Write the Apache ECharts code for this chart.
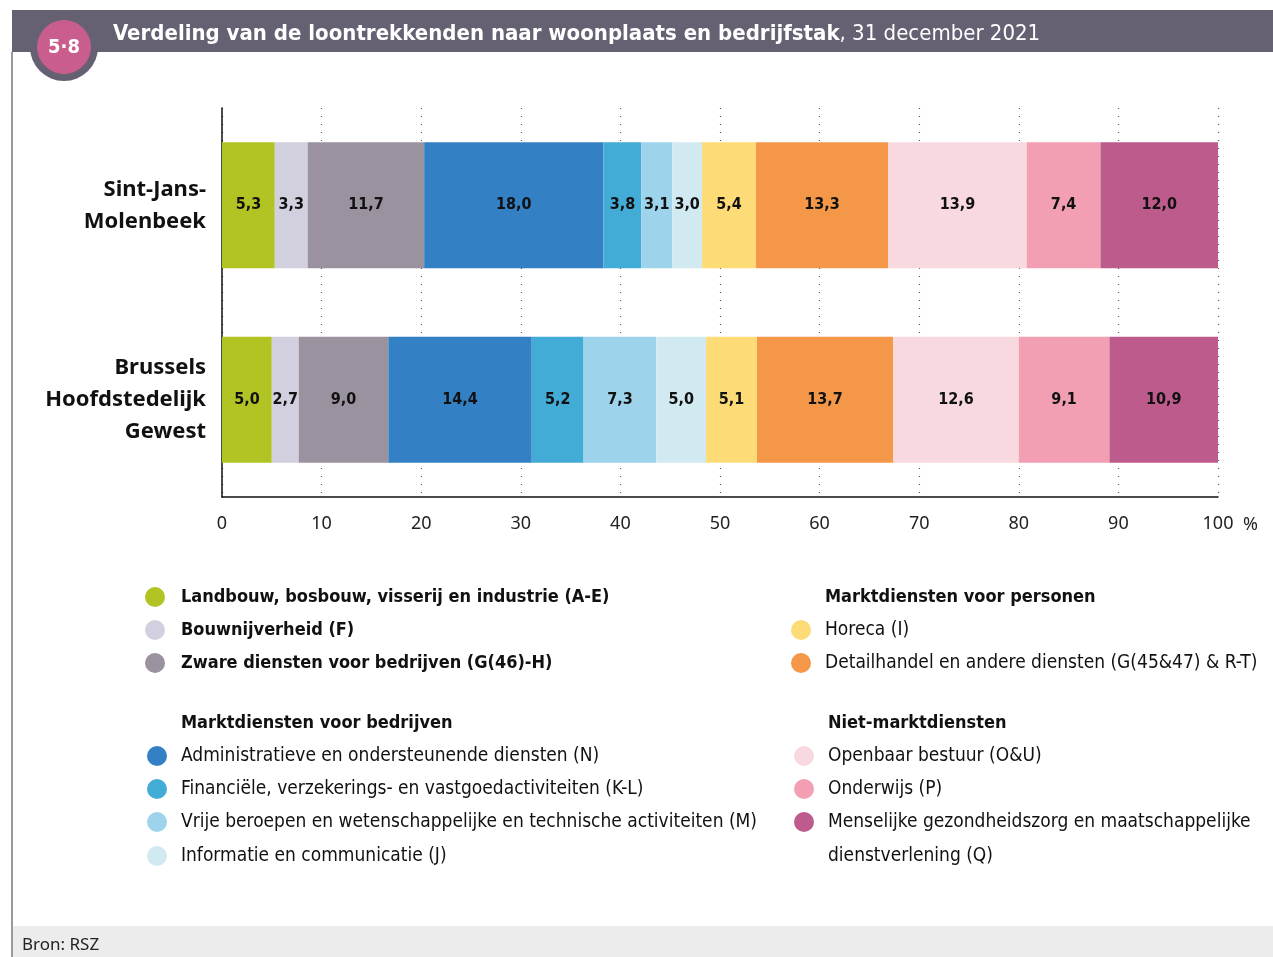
<!DOCTYPE html>
<html>
<head>
<meta charset="utf-8">
<script src="https://cdn.jsdelivr.net/npm/echarts@6/dist/echarts.min.js"></script>
<style>
  html, body { margin: 0; padding: 0; background: #fff; }
  #chart { width: 1273px; height: 957px; }
</style>
</head>
<body>
<div id="chart"></div>
<script>
// data
var regions = ['Sint-Jans-Molenbeek', 'Brussels Hoofdstedelijk Gewest'];
var regionLabels = ['Sint-Jans-\nMolenbeek', 'Brussels\nHoofdstedelijk\nGewest'];
var sectors = [
    'Landbouw, bosbouw, visserij en industrie (A-E)',
    'Bouwnijverheid (F)',
    'Zware diensten voor bedrijven (G(46)-H)',
    'Administratieve en ondersteunende diensten (N)',
    'Financiële, verzekerings- en vastgoedactiviteiten (K-L)',
    'Vrije beroepen en wetenschappelijke en technische activiteiten (M)',
    'Informatie en communicatie (J)',
    'Horeca (I)',
    'Detailhandel en andere diensten (G(45&47) & R-T)',
    'Openbaar bestuur (O&U)',
    'Onderwijs (P)',
    'Menselijke gezondheidszorg en maatschappelijke dienstverlening (Q)'
];
var molenbeek = [5.3, 3.3, 11.7, 18.0, 3.8, 3.1, 3.0, 5.4, 13.3, 13.9, 7.4, 12.0];
var brussel = [5.0, 2.7, 9.0, 14.4, 5.2, 7.3, 5.0, 5.1, 13.7, 12.6, 9.1, 10.9];
var colors = ['#b1c423', '#d2d0de', '#9a929f', '#3380c4', '#43acd6', '#9ed3ec',
    '#d1e9f0', '#fddc78', '#f49748', '#f9d9e0', '#f29fb3', '#be5b8d'];
var groupTitles = ['Marktdiensten voor bedrijven', 'Marktdiensten voor personen', 'Niet-marktdiensten'];
var xTicks = [0, 10, 20, 30, 40, 50, 60, 70, 80, 90, 100];

var NARROW = '"DejaVu Sans Condensed", "Liberation Sans Narrow", sans-serif';
var SANS = '"Noto Sans", "Open Sans", sans-serif';

var chart = echarts.init(document.getElementById('chart'));

function fmt(v){
    return v.toFixed(1).replace('.', ',');
}

var series = sectors.map(function(name, i){
    return {
        name: name,
        type: 'bar',
        stack: 'total',
        barWidth: 126,
        itemStyle: {color: colors[i]},
        label: {
            show: true,
            position: 'inside',
            color: '#111',
            fontFamily: NARROW,
            fontWeight: 'bold',
            fontSize: 16,
            formatter: function(p){ return fmt(p.value) }
        },
        data: [molenbeek[i], brussel[i]]
    }
});

// legend drawn as graphic elements
var graphics = [];
var LEG = '19px ' + NARROW;
var LEGB = 'bold 18px ' + NARROW;
function legendItem(i, cx, tx, y, bold){
    graphics.push({type: 'circle', shape: {cx: cx, cy: y, r: 10}, style: {fill: colors[i]}});
    graphics.push({type: 'text', x: tx, y: y, style: {
        text: sectors[i], fill: '#111', font: bold ? LEGB : LEG, textVerticalAlign: 'middle'
    }});
}
function header(text, x, y){
    graphics.push({type: 'text', x: x, y: y, style: {
        text: text, fill: '#111', font: LEGB, textVerticalAlign: 'middle'
    }});
}
legendItem(0, 155, 181, 597, true);
legendItem(1, 155, 181, 630, true);
legendItem(2, 155, 181, 663, true);
header(groupTitles[0], 181, 723);
legendItem(3, 157, 181, 756);
legendItem(4, 157, 181, 789);
legendItem(5, 157, 181, 822);
legendItem(6, 157, 181, 856);
header(groupTitles[1], 825, 597);
legendItem(7, 801, 825, 630);
legendItem(8, 801, 825, 663);
header(groupTitles[2], 828, 723);
legendItem(9, 804, 828, 756);
legendItem(10, 804, 828, 789);
graphics.push({type: 'circle', shape: {cx: 804, cy: 822, r: 10}, style: {fill: colors[11]}});
graphics.push({type: 'text', x: 828, y: 822, style: {
    text: 'Menselijke gezondheidszorg en maatschappelijke', fill: '#111', font: LEG, textVerticalAlign: 'middle'
}});
graphics.push({type: 'text', x: 828, y: 856, style: {
    text: 'dienstverlening (Q)', fill: '#111', font: LEG, textVerticalAlign: 'middle'
}});

// frame, header, footer
graphics.push({type: 'rect', shape: {x: 12, y: 10, width: 1261, height: 42}, style: {fill: '#656072'}});
graphics.push({type: 'line', shape: {x1: 12, y1: 52, x2: 12, y2: 957}, style: {stroke: '#9a97a3', lineWidth: 2}});
graphics.push({type: 'rect', shape: {x: 13, y: 926, width: 1260, height: 31}, style: {fill: '#ececec'}});
graphics.push({type: 'text', x: 22, y: 945, style: {
    text: 'Bron: RSZ', fill: '#222', font: '17px ' + SANS, textVerticalAlign: 'middle'
}});
graphics.push({type: 'circle', shape: {cx: 64, cy: 47, r: 34}, style: {fill: '#656072'}});
graphics.push({type: 'circle', shape: {cx: 64, cy: 47, r: 27}, style: {fill: '#c95d8e'}});
graphics.push({type: 'text', x: 64, y: 48, style: {
    text: '5·8', fill: '#fff', font: 'bold 20px ' + NARROW, textAlign: 'center', textVerticalAlign: 'middle'
}});
graphics.push({type: 'text', x: 113, y: 34, style: {
    text: '{b|Verdeling van de loontrekkenden naar woonplaats en bedrijfstak}{r|, 31 december 2021}',
    textVerticalAlign: 'middle',
    rich: {
        b: {fill: '#fff', fontFamily: NARROW, fontWeight: 'bold', fontSize: 22},
        r: {fill: '#fff', fontFamily: NARROW, fontSize: 22}
    }
}});
graphics.push({type: 'text', x: 1243, y: 525, style: {
    text: '%', fill: '#222', font: '18px ' + SANS, textVerticalAlign: 'middle'
}});

var option = {
    animation: false,
    grid: {left: 222, right: 55, top: 108, bottom: 460},
    xAxis: {
        type: 'value',
        min: 0,
        max: 100,
        interval: 10,
        axisLine: {show: true, lineStyle: {color: '#111', width: 1.5}},
        axisTick: {show: false},
        axisLabel: {
            color: '#222', fontFamily: SANS, fontSize: 18, margin: 18,
            formatter: function(v){ return xTicks.indexOf(v) >= 0 ? String(v) : '' }
        },
        splitLine: {show: true, lineStyle: {color: '#555', type: [1, 7], width: 1.2}}
    },
    yAxis: {
        type: 'category',
        inverse: true,
        data: regions,
        axisLine: {show: true, lineStyle: {color: '#111', width: 1.5}},
        axisTick: {show: false},
        axisLabel: {
            color: '#111', fontFamily: SANS, fontWeight: 'bold', fontSize: 22,
            lineHeight: 32, align: 'right', margin: 16,
            formatter: function(v){ return regionLabels[regions.indexOf(v)] }
        }
    },
    series: series,
    graphic: graphics
};

chart.setOption(option);
</script>
</body>
</html>
